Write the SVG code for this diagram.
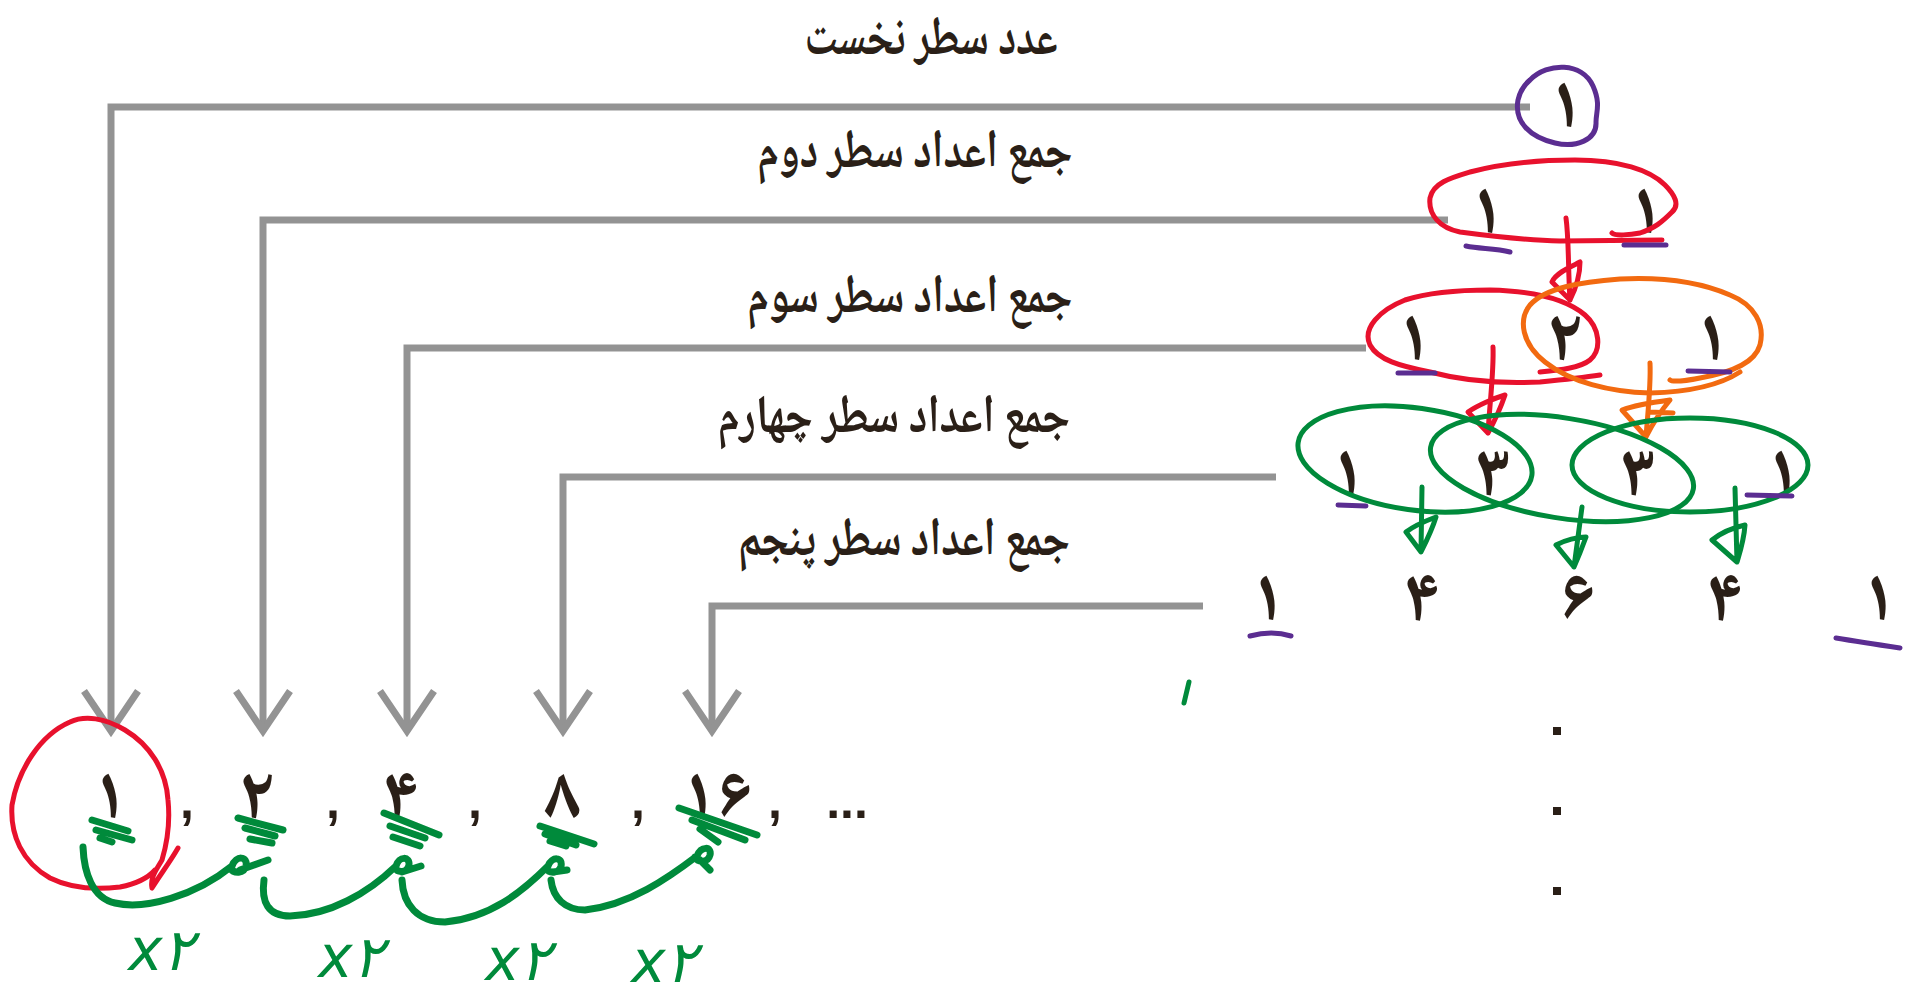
<svg xmlns="http://www.w3.org/2000/svg" width="1926" height="999" viewBox="0 0 1926 999">
<defs>
<style>
.lbl{font-family:"Noto Naskh Arabic","Noto Sans Arabic","DejaVu Sans",sans-serif;font-weight:bold;font-size:54px;fill:#2a1f17;text-anchor:middle}
.dg{font-family:"Noto Naskh Arabic","Noto Sans Arabic","DejaVu Sans",sans-serif;font-weight:bold;font-size:74px;fill:#2a1f17;text-anchor:middle}
.cm{font-family:"Liberation Sans",sans-serif;font-weight:bold;font-size:50px;fill:#2a1f17;text-anchor:middle}
.gl{fill:none;stroke:#939393;stroke-width:7;stroke-linejoin:miter}
.pu{fill:none;stroke:#5b2d91;stroke-width:5;stroke-linecap:round;stroke-linejoin:round}
.rd{fill:none;stroke:#e8112d;stroke-width:5;stroke-linecap:round;stroke-linejoin:round}
.or{fill:none;stroke:#f26a10;stroke-width:5;stroke-linecap:round;stroke-linejoin:round}
.gr{fill:none;stroke:#008a3b;stroke-width:5;stroke-linecap:round;stroke-linejoin:round}
.grt{stroke-width:7}
.hw{font-family:"DejaVu Sans",sans-serif;font-style:italic;font-size:58px;fill:#008a3b;text-anchor:middle}
</style>
<marker id="vhead" markerUnits="userSpaceOnUse" orient="auto" markerWidth="60" markerHeight="80" refX="0" refY="0" viewBox="-50 -40 60 80" overflow="visible">
<path d="M-40,-27 L0,0 L-40,27" fill="none" stroke="#939393" stroke-width="7"/>
</marker>
</defs>
<rect width="1926" height="999" fill="#ffffff"/>

<g id="connectors">
<path class="gl" d="M1530,107 H111 V731" marker-end="url(#vhead)"/>
<path class="gl" d="M1448,220 H263 V731" marker-end="url(#vhead)"/>
<path class="gl" d="M1366,348 H407 V731" marker-end="url(#vhead)"/>
<path class="gl" d="M1276,477 H563 V731" marker-end="url(#vhead)"/>
<path class="gl" d="M1203,606 H712 V731" marker-end="url(#vhead)"/>
</g>

<g id="labels">
<text class="lbl" x="931" y="54" font-size="46" textLength="253" lengthAdjust="spacingAndGlyphs">عدد سطر نخست</text>
<text class="lbl" x="915" y="167" textLength="315" lengthAdjust="spacingAndGlyphs">جمع اعداد سطر دوم</text>
<text class="lbl" x="910" y="312" textLength="325" lengthAdjust="spacingAndGlyphs">جمع اعداد سطر سوم</text>
<text class="lbl" x="894" y="432" textLength="352" lengthAdjust="spacingAndGlyphs">جمع اعداد سطر چهارم</text>
<text class="lbl" x="904" y="555" textLength="332" lengthAdjust="spacingAndGlyphs">جمع اعداد سطر پنجم</text>
</g>

<g id="row1">
<text class="dg" x="1566" y="127">۱</text>
<path class="pu" d="M1530,80 C1548,62 1582,62 1593,86 C1601,104 1596,112 1596,122 C1597,140 1576,148 1555,143 C1530,137 1514,122 1518,100 C1520,91 1524,85 1530,80 Z"/>
</g>

<g id="row2">
<text class="dg" x="1487" y="233">۱</text>
<text class="dg" x="1646" y="233">۱</text>
<path class="rd" d="M1662,240 L1560,241 C1520,240 1490,236 1460,232 C1440,228 1428,215 1430,198 C1433,183 1450,178 1470,172 C1500,164 1540,160 1575,160 C1620,160 1650,170 1665,185 C1675,195 1680,205 1672,212 C1662,222 1655,228 1640,233 C1630,235 1615,236 1612,233"/>
<path class="pu" d="M1466,246 C1480,249 1495,248 1510,252 M1624,245 L1666,245"/>
<path class="rd" d="M1566,218 C1569,240 1568,270 1570,300 M1570,300 L1552,282 C1556,272 1575,265 1580,262 C1580,275 1575,290 1570,300"/>
</g>

<g id="row3">
<text class="dg" x="1414" y="360">۱</text>
<text class="dg" x="1566" y="360">۲</text>
<text class="dg" x="1712" y="360">۱</text>
<path class="rd" d="M1600,375 C1580,378 1560,380 1540,382 C1500,384 1460,380 1430,372 C1400,366 1378,360 1370,345 C1362,328 1380,310 1405,300 C1430,292 1460,290 1490,290 C1530,291 1565,298 1585,315 C1600,328 1602,350 1590,360 C1580,368 1560,370 1540,372"/>
<path class="or" d="M1740,372 C1720,385 1690,392 1650,393 C1610,392 1570,382 1545,362 C1522,344 1518,320 1530,305 C1545,288 1580,282 1620,279 C1660,277 1700,282 1730,295 C1755,305 1765,325 1760,345 C1755,362 1735,372 1700,378 C1685,381 1672,382 1670,380"/>
<path class="pu" d="M1398,373 L1435,373 M1688,371 L1730,372"/>
<path class="rd" d="M1493,347 C1494,370 1490,400 1488,433 M1488,433 L1468,412 C1478,405 1495,398 1505,395 C1500,410 1494,422 1488,433"/>
<path class="or" d="M1650,363 C1651,385 1648,410 1646,437 M1646,437 L1622,410 C1635,405 1655,402 1670,400 C1660,412 1652,425 1646,437 M1650,412 L1673,413"/>
</g>

<g id="row4">
<text class="dg" x="1348" y="495">۱</text>
<text class="dg" x="1493" y="495">۳</text>
<text class="dg" x="1638" y="495">۳</text>
<text class="dg" x="1783" y="495">۱</text>
<ellipse class="gr" cx="1415" cy="459" rx="118" ry="51" transform="rotate(8 1415 459)"/>
<ellipse class="gr" cx="1562" cy="468" rx="133" ry="50" transform="rotate(9 1562 468)"/>
<ellipse class="gr" cx="1690" cy="465" rx="118" ry="47"/>
<path class="pu" d="M1747,495 L1792,496 M1338,505 L1366,506"/>
<path class="gr" d="M1422,487 L1421,552 L1406,532 C1415,525 1428,520 1436,517 C1432,530 1426,542 1421,552"/>
<path class="gr" d="M1582,507 L1574,567 L1556,545 C1565,540 1578,537 1586,537 C1582,548 1578,558 1574,567"/>
<path class="gr" d="M1735,488 L1737,562 L1712,540 C1722,532 1736,527 1745,525 C1744,540 1740,552 1737,562"/>
</g>

<g id="row5">
<text class="dg" x="1268" y="620">۱</text>
<text class="dg" x="1423" y="620">۴</text>
<text class="dg" x="1578" y="620">۶</text>
<text class="dg" x="1726" y="620">۴</text>
<text class="dg" x="1879" y="620">۱</text>
<path class="pu" d="M1250,636 C1265,632 1278,632 1291,636 M1836,638 C1860,642 1880,645 1900,648"/>
<path class="gr" d="M1189,682 L1184,703"/>
<rect x="1553" y="727" width="8" height="8" fill="#2a1f17"/>
<rect x="1553" y="807" width="8" height="8" fill="#2a1f17"/>
<rect x="1553" y="887" width="8" height="8" fill="#2a1f17"/>
</g>

<g id="sequence">
<text class="dg" x="110" y="818">۱</text>
<text class="cm" x="187" y="818">,</text>
<text class="dg" x="258" y="818">۲</text>
<text class="cm" x="333" y="818">,</text>
<text class="dg" x="402" y="818">۴</text>
<text class="cm" x="475" y="818">,</text>
<text class="dg" x="562" y="818">۸</text>
<text class="cm" x="638" y="818">,</text>
<text class="dg" x="717" y="818">۱۶</text>
<text class="cm" x="775" y="818">,</text>
<text class="cm" x="847" y="818">...</text>
</g>

<g id="annotations">
<path class="rd" d="M178,848 C170,862 160,875 152,888 C150,878 156,870 162,860 C168,840 170,820 168,800 C166,770 150,745 125,730 C105,718 85,715 70,722 C40,735 18,770 12,805 C10,835 22,862 50,878 C70,888 95,890 120,887 C135,884 148,878 155,870"/>
<path class="gr grt" d="M92,820 L128,831 M96,830 L132,840 M100,838 L112,842"/>
<path class="gr grt" d="M238,818 L283,830 M245,828 L275,836 M250,839 L272,843"/>
<path class="gr grt" d="M384,813 L439,835 M390,826 L425,838 M393,837 L420,846"/>
<path class="gr grt" d="M540,826 L594,844 M545,834 L576,845 M550,841 L566,846"/>
<path class="gr grt" d="M679,808 L757,835 M692,820 L745,840 M700,829 L718,842"/>
<path class="gr grt" d="M83,847 C84,872 92,898 115,903 C145,910 195,896 232,866 M232,866 C236,855 248,856 246,866 C244,874 234,874 230,868 M240,870 L268,860"/>
<path class="gr grt" d="M264,880 C261,902 268,916 290,916 C330,915 368,893 396,866 M396,866 C399,856 410,856 409,865 C407,873 398,873 395,868 M402,872 L421,866"/>
<path class="gr grt" d="M402,880 C403,905 418,922 445,922 C490,918 522,892 548,866 M548,866 C552,856 563,857 561,866 C559,874 549,874 546,868 M553,872 L567,870"/>
<path class="gr grt" d="M551,880 C553,898 565,910 585,910 C630,905 668,878 697,856 M697,856 C701,846 712,846 710,855 C708,863 698,863 695,857 M700,860 L710,870"/>
<text class="hw" x="161" y="970">x۲</text>
<text class="hw" x="351" y="977">x۲</text>
<text class="hw" x="518" y="980">x۲</text>
<text class="hw" x="664" y="982">x۲</text>
</g>
</svg>
